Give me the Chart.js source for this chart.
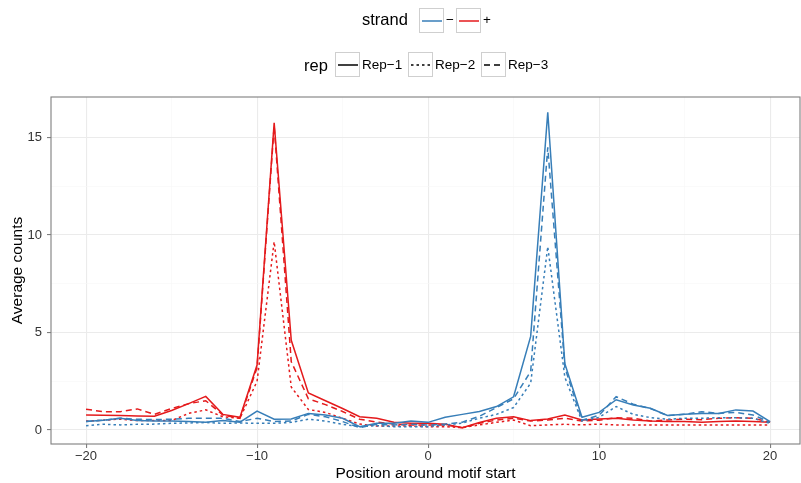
<!DOCTYPE html>
<html>
<head>
<meta charset="utf-8">
<script src="https://cdn.jsdelivr.net/npm/chart.js@4"></script>
<style>
body { margin: 0; background: #fff; font-family: "Liberation Sans", Arial, sans-serif; }
#wrap { position: relative; width: 801px; height: 483px; }
.lg { position: absolute; color: #000; white-space: nowrap; line-height: 1; }
.box { position: absolute; width: 25px; height: 25px; border: 1px solid #cfcfcf; box-sizing: border-box; }
.box svg { position: absolute; left: 0; top: 0; }
</style>
</head>
<body>
<div id="wrap">
  <canvas id="canvas" width="801" height="483"></canvas>
  <div id="legend"></div>
</div>
<script>
// position around motif start
var positions = [-20, -19, -18, -17, -16, -15, -14, -13, -12, -11, -10, -9, -8, -7, -6, -5, -4, -3, -2, -1, 0,
  1, 2, 3, 4, 5, 6, 7, 8, 9, 10, 11, 12, 13, 14, 15, 16, 17, 18, 19, 20];

// strand "-" (blue)
var minusRep1 = [0.43, 0.5, 0.6, 0.48, 0.46, 0.46, 0.43, 0.4, 0.48, 0.4, 0.97, 0.55, 0.56, 0.85, 0.77, 0.6, 0.17, 0.34, 0.34, 0.46, 0.39,
  0.65, 0.8, 0.95, 1.2, 1.7, 4.8, 16.3, 3.4, 0.65, 0.9, 1.55, 1.28, 1.11, 0.74, 0.8, 0.85, 0.85, 1.03, 0.97, 0.43];
var minusRep2 = [0.22, 0.29, 0.26, 0.29, 0.3, 0.34, 0.36, 0.38, 0.34, 0.36, 0.34, 0.34, 0.39, 0.55, 0.46, 0.29, 0.17, 0.22, 0.17, 0.17, 0.17,
  0.25, 0.35, 0.6, 0.8, 1.15, 2.4, 9.4, 2.7, 0.45, 0.65, 1.2, 0.8, 0.63, 0.55, 0.6, 0.6, 0.63, 0.63, 0.6, 0.34];
var minusRep3 = [0.43, 0.5, 0.6, 0.55, 0.53, 0.55, 0.6, 0.6, 0.6, 0.43, 0.6, 0.43, 0.46, 0.8, 0.68, 0.43, 0.12, 0.29, 0.26, 0.29, 0.25,
  0.3, 0.4, 0.7, 1.15, 1.6, 3.0, 14.5, 3.2, 0.5, 0.75, 1.71, 1.32, 1.1, 0.74, 0.8, 0.94, 0.85, 0.9, 0.77, 0.4];

// strand "+" (red)
var plusRep1 = [0.77, 0.75, 0.74, 0.72, 0.7, 1.0, 1.35, 1.72, 0.8, 0.65, 3.33, 15.75, 4.6, 1.9, 1.5, 1.1, 0.68, 0.6, 0.4, 0.34, 0.34,
  0.29, 0.12, 0.38, 0.6, 0.68, 0.48, 0.56, 0.77, 0.51, 0.56, 0.6, 0.51, 0.46, 0.43, 0.43, 0.39, 0.43, 0.46, 0.43, 0.39];
var plusRep2 = [0.46, 0.5, 0.56, 0.48, 0.48, 0.48, 0.85, 1.03, 0.68, 0.6, 2.5, 9.66, 2.2, 1.05, 0.9, 0.6, 0.3, 0.2, 0.2, 0.2, 0.17,
  0.17, 0.12, 0.26, 0.39, 0.51, 0.22, 0.26, 0.29, 0.26, 0.3, 0.26, 0.26, 0.26, 0.26, 0.26, 0.26, 0.26, 0.26, 0.26, 0.26];
var plusRep3 = [1.06, 0.94, 0.94, 1.08, 0.8, 1.1, 1.35, 1.5, 0.77, 0.6, 3.2, 15.6, 3.5, 1.6, 1.3, 0.95, 0.55, 0.4, 0.3, 0.25, 0.25,
  0.26, 0.12, 0.34, 0.51, 0.6, 0.46, 0.51, 0.6, 0.46, 0.5, 0.63, 0.6, 0.46, 0.51, 0.55, 0.53, 0.6, 0.63, 0.6, 0.4];

var xTicks = [-20, -15, -10, -5, 0, 5, 10, 15, 20];
var yTicks = [0, 2.5, 5, 7.5, 10, 12.5, 15];

var strands = ['\u2212', '+'];
var reps = ['Rep\u22121', 'Rep\u22122', 'Rep\u22123'];
var strandColors = ['#377eb8', '#e41a1c'];
var repDashes = [[], [2.5, 3], [6, 4]];

var FONT = '"Liberation Sans", Arial, sans-serif';

function pts(vals) {
  return positions.map(function (p, i) { return { x: p, y: vals[i] }; });
}

var series = [
  [minusRep1, minusRep2, minusRep3],
  [plusRep1, plusRep2, plusRep3]
];

var datasets = [];
for (var s = 0; s < 2; s++) {
  for (var r = 0; r < 3; r++) {
    datasets.push({
      label: strands[s] + ' ' + reps[r],
      data: pts(series[s][r]),
      borderColor: strandColors[s],
      borderWidth: 1.5,
      borderDash: repDashes[r],
      pointRadius: 0,
      fill: false,
      tension: 0
    });
  }
}

var panelBorder = {
  id: 'panelBorder',
  afterDraw: function (chart) {
    var a = chart.chartArea, ctx = chart.ctx;
    ctx.save();
    ctx.strokeStyle = '#7f7f7f';
    ctx.lineWidth = 1.1;
    ctx.strokeRect(a.left, a.top, a.right - a.left, a.bottom - a.top);
    ctx.restore();
  }
};

function fmt(v) {
  return v < 0 ? '\u2212' + Math.abs(v) : String(v);
}

var chart = new Chart(document.getElementById('canvas').getContext('2d'), {
  type: 'line',
  data: { datasets: datasets },
  plugins: [panelBorder],
  options: {
    responsive: false,
    animation: false,
    layout: { padding: { top: 97, right: 1, left: 0, bottom: 0 } },
    plugins: { legend: { display: false }, tooltip: { enabled: false } },
    scales: {
      x: {
        type: 'linear',
        min: -22.05,
        max: 21.75,
        afterBuildTicks: function (scale) {
          scale.ticks = xTicks.map(function (v) { return { value: v }; });
        },
        afterFit: function (scale) { scale.height = 39; },
        border: { display: false },
        grid: {
          color: function (c) { return c.tick && c.tick.value % 10 === 0 ? '#ebebeb' : '#f6f6f6'; },
          lineWidth: function (c) { return c.tick && c.tick.value % 10 === 0 ? 1.1 : 0.6; },
          tickColor: function (c) { return c.tick && c.tick.value % 10 === 0 ? '#7f7f7f' : 'rgba(0,0,0,0)'; },
          tickLength: 4
        },
        ticks: {
          autoSkip: false,
          maxRotation: 0,
          padding: 1,
          color: '#333',
          font: { family: FONT, size: 13 },
          callback: function (v) { return v % 10 === 0 ? fmt(v) : ''; }
        },
        title: {
          display: true,
          text: 'Position around motif start',
          color: '#000',
          padding: { top: 0, bottom: 0 },
          font: { family: FONT, size: 15.5 }
        }
      },
      y: {
        min: -0.72,
        max: 17.08,
        afterBuildTicks: function (scale) {
          scale.ticks = yTicks.map(function (v) { return { value: v }; });
        },
        afterFit: function (scale) { scale.width = 51; },
        border: { display: false },
        grid: {
          color: function (c) { return c.tick && c.tick.value % 5 === 0 ? '#ebebeb' : '#f6f6f6'; },
          lineWidth: function (c) { return c.tick && c.tick.value % 5 === 0 ? 1.1 : 0.6; },
          tickColor: function (c) { return c.tick && c.tick.value % 5 === 0 ? '#7f7f7f' : 'rgba(0,0,0,0)'; },
          tickLength: 4
        },
        ticks: {
          autoSkip: false,
          padding: 5,
          color: '#333',
          font: { family: FONT, size: 13 },
          callback: function (v) { return v % 5 === 0 ? fmt(v) : ''; }
        },
        title: {
          display: true,
          text: 'Average counts',
          color: '#000',
          padding: { top: 8, bottom: 0 },
          font: { family: FONT, size: 15.5 }
        }
      }
    }
  }
});

// legends (ggplot-style, two rows)
var legend = document.getElementById('legend');
function addText(txt, left, top, size) {
  var d = document.createElement('div');
  d.className = 'lg';
  d.style.left = left + 'px';
  d.style.top = top + 'px';
  d.style.fontSize = size + 'px';
  d.textContent = txt;
  legend.appendChild(d);
}
function addKey(left, top, color, dash) {
  var b = document.createElement('div');
  b.className = 'box';
  b.style.left = left + 'px';
  b.style.top = top + 'px';
  b.innerHTML = '<svg width="25" height="25"><line x1="2" y1="12" x2="22" y2="12" stroke="' + color +
    '" stroke-width="1.5" stroke-dasharray="' + (dash.length ? dash.join(' ') : 'none') + '"/></svg>';
  legend.appendChild(b);
}

addText('strand', 362, 11, 16.5);
var sLeft = [419, 456];
for (var i = 0; i < strands.length; i++) {
  addKey(sLeft[i], 8, strandColors[i], []);
  addText(strands[i], sLeft[i] + 27, 13, 13.5);
}

addText('rep', 304, 57, 16.5);
var rLeft = [335, 408, 481];
for (var j = 0; j < reps.length; j++) {
  addKey(rLeft[j], 52, '#000', repDashes[j]);
  addText(reps[j], rLeft[j] + 27, 58, 13.5);
}
</script>
</body>
</html>
